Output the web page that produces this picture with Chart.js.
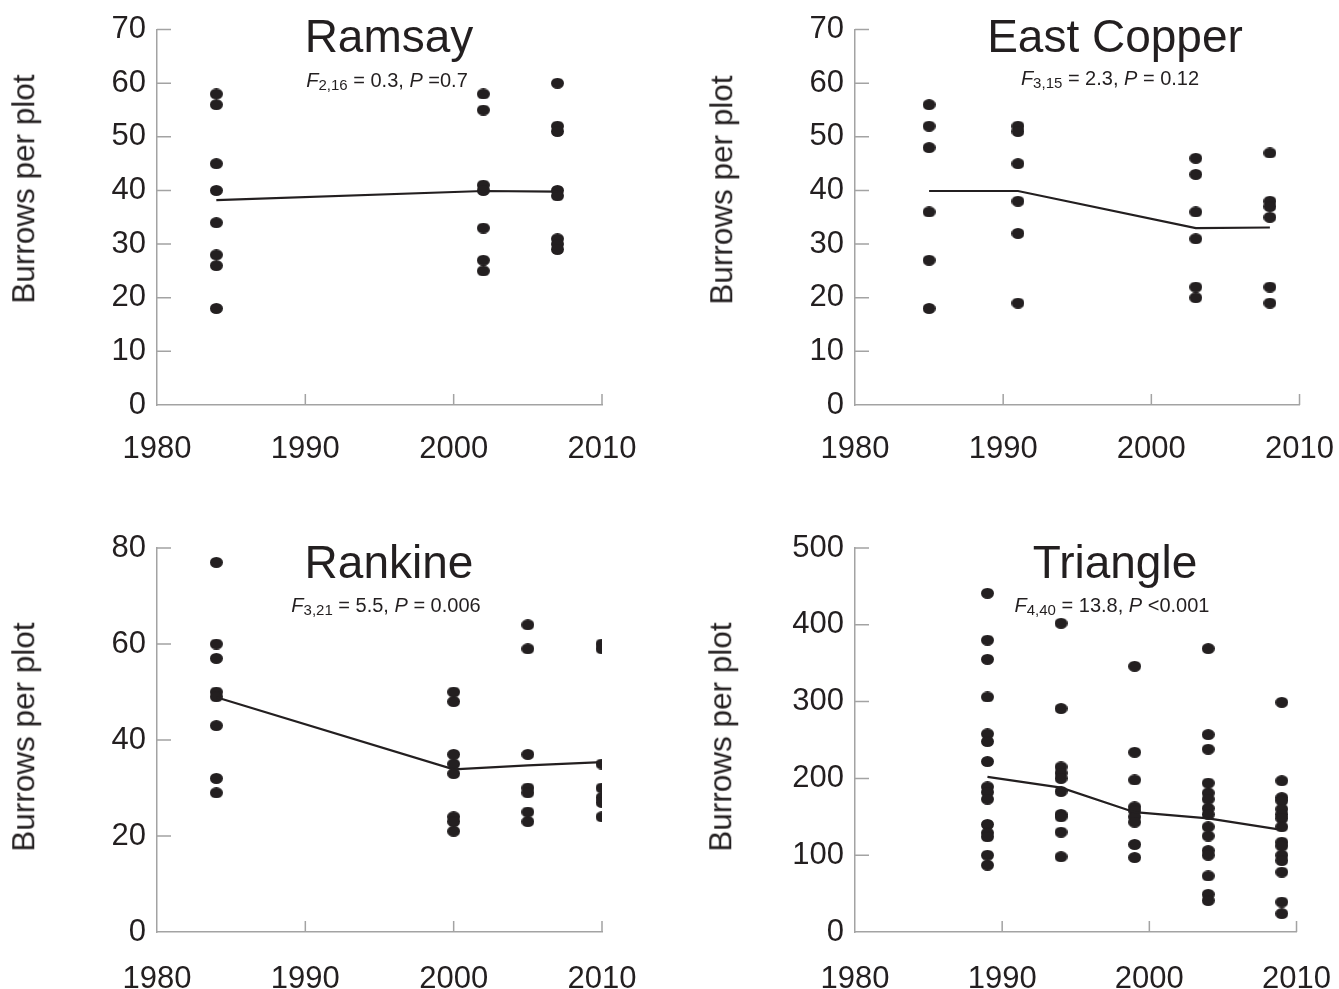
<!DOCTYPE html>
<html>
<head>
<meta charset="utf-8">
<script src="https://cdn.jsdelivr.net/npm/chart.js@4"></script>
<style>
  html, body { margin: 0; padding: 0; background: #fff; }
  body { width: 1339px; height: 989px; position: relative; overflow: hidden; font-family: "Liberation Sans", Arial, sans-serif; color: #231f20; }
  canvas { position: absolute; }
  .title { position: absolute; font-size: 46px; line-height: 1; white-space: nowrap; transform: translateX(-50%); }
  .stats { position: absolute; font-size: 20px; line-height: 1; white-space: nowrap; transform: translateX(-50%); }
  .stats sub { font-size: 15px; vertical-align: baseline; position: relative; top: 3px; }
  .ylab { position: absolute; font-size: 31.5px; line-height: 1; white-space: nowrap; transform: translate(-50%, -50%) rotate(-90deg); }
</style>
</head>
<body>
<canvas id="c1" width="669" height="494" style="left:0;top:0;"></canvas>
<canvas id="c2" width="662" height="494" style="left:698px;top:0;"></canvas>
<canvas id="c3" width="669" height="495" style="left:0;top:494px;"></canvas>
<canvas id="c4" width="662" height="495" style="left:698px;top:494px;"></canvas>

<div class="title" style="left:389px;top:13px;">Ramsay</div>
<div class="stats" style="left:387px;top:70px;"><i>F</i><sub>2,16</sub> = 0.3, <i>P</i> =0.7</div>
<div class="title" style="left:1115px;top:13px;">East Copper</div>
<div class="stats" style="left:1110px;top:68px;"><i>F</i><sub>3,15</sub> = 2.3, <i>P</i> = 0.12</div>
<div class="title" style="left:389px;top:539px;">Rankine</div>
<div class="stats" style="left:386px;top:595px;"><i>F</i><sub>3,21</sub> = 5.5, <i>P</i> = 0.006</div>
<div class="title" style="left:1115px;top:539px;">Triangle</div>
<div class="stats" style="left:1112px;top:595px;"><i>F</i><sub>4,40</sub> = 13.8, <i>P</i> &lt;0.001</div>

<div class="ylab" style="left:24px;top:189px;">Burrows per plot</div>
<div class="ylab" style="left:722px;top:190px;">Burrows per plot</div>
<div class="ylab" style="left:24px;top:737px;">Burrows per plot</div>
<div class="ylab" style="left:721px;top:737px;">Burrows per plot</div>

<script>
// ---- Data ----
const xTicks = [1980, 1990, 2000, 2010];

const ramsayYears = [1984, 2002, 2007];
const ramsayCounts = [
  [58, 56, 45, 40, 34, 28, 26, 18],
  [58, 55, 41, 40, 33, 27, 25],
  [60, 52, 51, 40, 39, 31, 30, 29]
];
const ramsayMeans = [38.2, 39.9, 39.8];
const ramsayYTicks = [0, 10, 20, 30, 40, 50, 60, 70];

const eastCopperYears = [1985, 1991, 2003, 2008];
const eastCopperCounts = [
  [56, 52, 48, 36, 27, 18],
  [52, 51, 45, 38, 32, 19],
  [46, 43, 36, 31, 22, 20],
  [47, 38, 37, 35, 22, 19]
];
const eastCopperMeans = [39.9, 39.9, 33.0, 33.1];
const eastCopperYTicks = [0, 10, 20, 30, 40, 50, 60, 70];

const rankineYears = [1984, 2000, 2005, 2010];
const rankineCounts = [
  [77, 60, 57, 50, 49, 43, 32, 29],
  [50, 48, 37, 35, 33, 24, 23, 21],
  [64, 59, 37, 30, 29, 25, 23],
  [60, 59, 35, 30, 28, 27, 24]
];
const rankineMeans = [48.9, 33.9, 34.7, 35.4];
const rankineYTicks = [0, 20, 40, 60, 80];

const triangleYears = [1989, 1994, 1999, 2004, 2009];
const triangleCounts = [
  [441, 380, 355, 306, 258, 248, 222, 189, 182, 173, 140, 129, 124, 100, 87],
  [402, 291, 215, 207, 200, 183, 153, 150, 130, 98],
  [346, 234, 198, 163, 158, 150, 143, 114, 97],
  [369, 257, 238, 194, 181, 173, 161, 153, 137, 125, 106, 100, 73, 49, 41],
  [299, 197, 175, 171, 160, 153, 148, 137, 117, 112, 100, 93, 78, 39, 24]
];
const triangleMeans = [202, 188, 156, 148, 133];
const triangleYTicks = [0, 100, 200, 300, 400, 500];

// ---- Styling ----
const INK = '#231f20';
const AXIS = '#a3a3a3';
const FONT = '"Liberation Sans", Arial, sans-serif';

const dot = document.createElement('canvas');
dot.width = 13; dot.height = 11;
(function () {
  const g = dot.getContext('2d');
  g.fillStyle = INK;
  g.beginPath();
  g.ellipse(6.5, 5.5, 6.5, 5.5, 0, 0, Math.PI * 2);
  g.fill();
})();

const innerTicks = {
  id: 'innerTicks',
  afterDraw(chart) {
    const ctx = chart.ctx;
    const xs = chart.scales.x, ys = chart.scales.y;
    const a = chart.chartArea;
    ctx.save();
    ctx.strokeStyle = AXIS;
    ctx.lineWidth = 1.5;
    ctx.beginPath();
    xs.ticks.forEach(t => {
      const px = xs.getPixelForValue(t.value);
      if (Math.abs(px - a.left) < 1) return;
      ctx.moveTo(px, a.bottom);
      ctx.lineTo(px, a.bottom - 11);
    });
    ys.ticks.forEach(t => {
      const py = ys.getPixelForValue(t.value);
      if (Math.abs(py - a.bottom) < 1) return;
      ctx.moveTo(a.left, py);
      ctx.lineTo(a.left + 14, py);
    });
    ctx.stroke();
    ctx.restore();
  }
};

function makePanel(id, years, counts, means, yTicks, top, bottomAxisH, rightPad, xLabelPad) {
  const points = [];
  counts.forEach((col, i) => col.forEach(v => points.push({ x: years[i], y: v })));
  const meanLine = years.map((yr, i) => ({ x: yr, y: means[i] }));
  const yMax = yTicks[yTicks.length - 1];
  const yStep = yTicks[1] - yTicks[0];
  return new Chart(document.getElementById(id), {
    type: 'scatter',
    data: {
      datasets: [
        {
          data: meanLine, showLine: true, borderColor: INK, borderWidth: 2.2,
          pointRadius: 0, pointHoverRadius: 0, fill: false, tension: 0
        },
        {
          data: points, pointStyle: dot, pointRadius: 6, pointHoverRadius: 6,
          backgroundColor: INK, borderColor: INK
        }
      ]
    },
    options: {
      responsive: false,
      animation: false,
      events: [],
      layout: { padding: { top: top, right: rightPad, left: 0, bottom: 0 } },
      plugins: { legend: { display: false }, tooltip: { enabled: false }, title: { display: false } },
      scales: {
        x: {
          type: 'linear', min: 1980, max: 2010,
          afterBuildTicks: s => { s.ticks = xTicks.map(v => ({ value: v })); },
          afterFit: s => { s.height = bottomAxisH; },
          grid: { display: false, drawTicks: false },
          border: { display: true, color: AXIS, width: 1.5 },
          ticks: { color: INK, font: { family: FONT, size: 31 }, padding: xLabelPad, maxRotation: 0, autoSkip: false,
                   callback: v => String(v) }
        },
        y: {
          type: 'linear', min: 0, max: yMax,
          afterBuildTicks: s => { s.ticks = yTicks.map(v => ({ value: v })); },
          afterFit: s => { s.width = 157; },
          grid: { display: false, drawTicks: false },
          border: { display: true, color: AXIS, width: 1.5 },
          ticks: { color: INK, font: { family: FONT, size: 31 }, padding: 11, stepSize: yStep, autoSkip: false,
                   callback: v => String(v) }
        }
      }
    },
    plugins: [innerTicks]
  });
}

makePanel('c1', ramsayYears, ramsayCounts, ramsayMeans, ramsayYTicks, 21, 494 - 405, 67, 26);
makePanel('c2', eastCopperYears, eastCopperCounts, eastCopperMeans, eastCopperYTicks, 21, 494 - 405, 60, 26);
makePanel('c3', rankineYears, rankineCounts, rankineMeans, rankineYTicks, 54, 495 - 438, 67, 29);
makePanel('c4', triangleYears, triangleCounts, triangleMeans, triangleYTicks, 54, 495 - 438, 59, 29);
</script>
</body>
</html>
